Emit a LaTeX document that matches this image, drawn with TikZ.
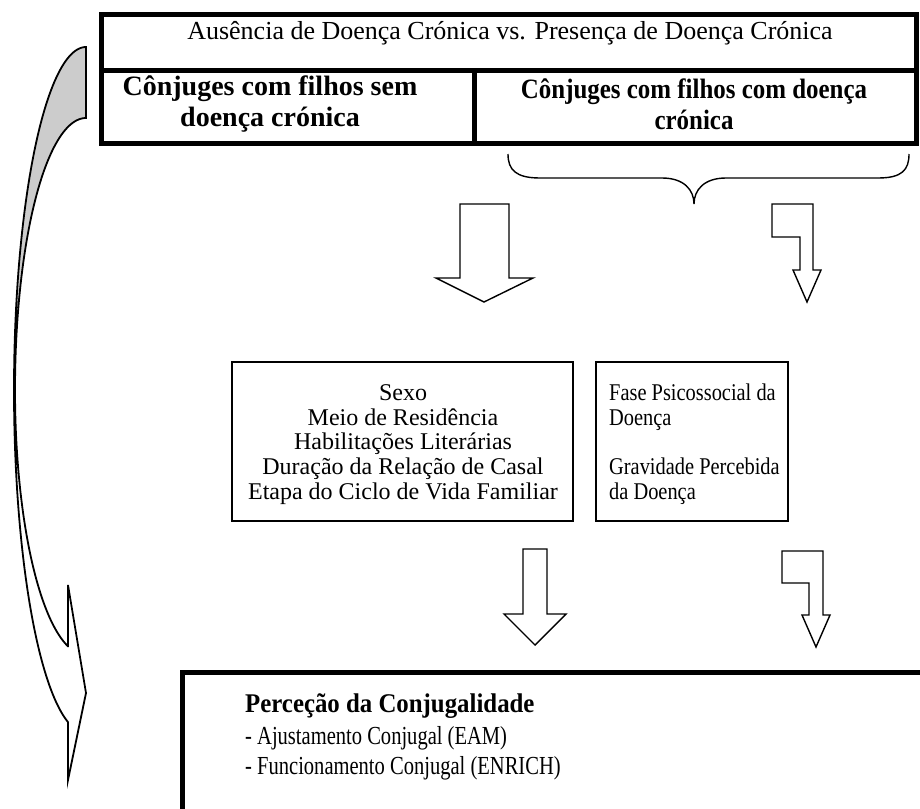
\documentclass[tikz,border=0pt]{standalone}
\usepackage{fontspec}
\setmainfont{Liberation Serif}
\newfontfamily\fnarrowA[FakeStretch=0.89]{Liberation Serif}
\newfontfamily\fnarrowB[FakeStretch=0.85]{Liberation Serif}
\newfontfamily\fnarrowC[FakeStretch=0.92]{Liberation Serif}
\newfontfamily\fnarrowD[FakeStretch=0.79]{Liberation Serif}
\begin{document}
\begin{tikzpicture}[x=1pt,y=-1pt,
  thickline/.style={line width=5pt},
  thinbox/.style={draw, line width=1.3pt, inner sep=0pt},
  blockarrow/.style={draw, line width=1.4pt, fill=white, line join=miter},
  curvearrow/.style={draw, line width=1.8pt, line join=miter},
  txthead/.style={inner sep=0pt, align=center, font=\fontsize{26}{30}\selectfont},
  txtboldL/.style={inner sep=0pt, align=center, font=\fontsize{28}{31}\selectfont\bfseries},
  txtboldR/.style={inner sep=0pt, align=center, font=\fnarrowA\fontsize{28}{31}\selectfont\bfseries},
  txtmidL/.style={inner sep=0pt, align=center, font=\fontsize{24}{24.7}\selectfont},
  txtmidR/.style={inner sep=0pt, align=left, font=\fnarrowB\fontsize{24}{24.7}\selectfont},
  txttitle/.style={inner sep=0pt, align=left, font=\fnarrowC\fontsize{27}{30}\selectfont\bfseries},
  txtlist/.style={inner sep=0pt, align=left, font=\fnarrowD\fontsize{26}{30}\selectfont}]
\useasboundingbox (0,0) rectangle (920,808);
\clip (0,0) rectangle (920,808);
\fill[white] (0,0) rectangle (920,808);

% top table
\draw[thickline] (101,15) rectangle (916,143);
\draw[thickline] (101,70) -- (916,70);
\draw[thickline] (474,70) -- (474,143);
\node[txthead] (hdr) at (510,33) {Ausência de Doença Crónica vs. Presença de Doença Crónica};
\node[txtboldL] (grpA) at (270,104.5) {Cônjuges com filhos sem\\doença crónica};
\node[txtboldR] (grpB) at (694,104.5) {Cônjuges com filhos com doença\\crónica};

% brace
\draw[line width=1.4pt] (508,154) .. controls (508,170) and (516,178) .. (540,178)
  -- (662,178) .. controls (684,178) and (694,190) .. (694,204)
  .. controls (694,190) and (704,178) .. (726,178)
  -- (878,178) .. controls (902,178) and (909,170) .. (909,154);

% upper arrows
\draw[blockarrow] (460,204) -- (509,204) -- (509,278) -- (533,278) -- (484,302)
  -- (436,278) -- (460,278) -- cycle;
\draw[blockarrow] (772,204) -- (813,204) -- (813,270) -- (821,270) -- (807,302)
  -- (793,270) -- (800,270) -- (800,237) -- (772,237) -- cycle;

% middle boxes
\node[thinbox, minimum width=341pt, minimum height=159pt] (boxL) at (402.5,441.5) {};
\node[thinbox, minimum width=192pt, minimum height=159pt] (boxR) at (692,441.5) {};
\node[txtmidL] (varsL) at (403,444.5) {Sexo\\Meio de Residência\\Habilitações Literárias\\Duração da Relação de Casal\\Etapa do Ciclo de Vida Familiar};
\node[txtmidR, anchor=west] (varsR) at (609,444.5) {Fase Psicossocial da\\Doença\\\mbox{}\\Gravidade Percebida\\da Doença};

% lower arrows
\draw[blockarrow] (523,549) -- (547,549) -- (547,614) -- (566,614) -- (535,645)
  -- (504,614) -- (523,614) -- cycle;
\draw[blockarrow] (782,551) -- (823,551) -- (823,615) -- (830,615) -- (816,647)
  -- (802,615) -- (809,615) -- (809,583) -- (782,583) -- cycle;

% bottom box
\draw[thickline] (182,672) rectangle (940,840);
\node[txttitle, anchor=west] (title) at (245,706) {Perceção da Conjugalidade};
\node[txtlist, anchor=west] (list) at (245,753) {- Ajustamento Conjugal (EAM)\\- Funcionamento Conjugal (ENRICH)};

% curved arrow: front band
\draw[curvearrow, fill=white]
  plot[domain=0:-75.5, samples=60, variable=\t] ({86-72*cos(\t)},{390-343*sin(\t)})
  -- (68,780) -- (86,693) -- (68,585) -- (68,647)
  -- plot[domain=-75.3:0, samples=60, variable=\t] ({86-71*cos(\t)},{390-265*sin(\t)})
  -- cycle;
% curved arrow: back band (shaded)
\draw[curvearrow, fill=black!20]
  plot[domain=90:0, samples=60, variable=\t] ({86-72*cos(\t)},{390-343*sin(\t)})
  -- plot[domain=0:90, samples=60, variable=\t] ({86-71*cos(\t)},{390-272*sin(\t)})
  -- cycle;
\end{tikzpicture}
\end{document}
